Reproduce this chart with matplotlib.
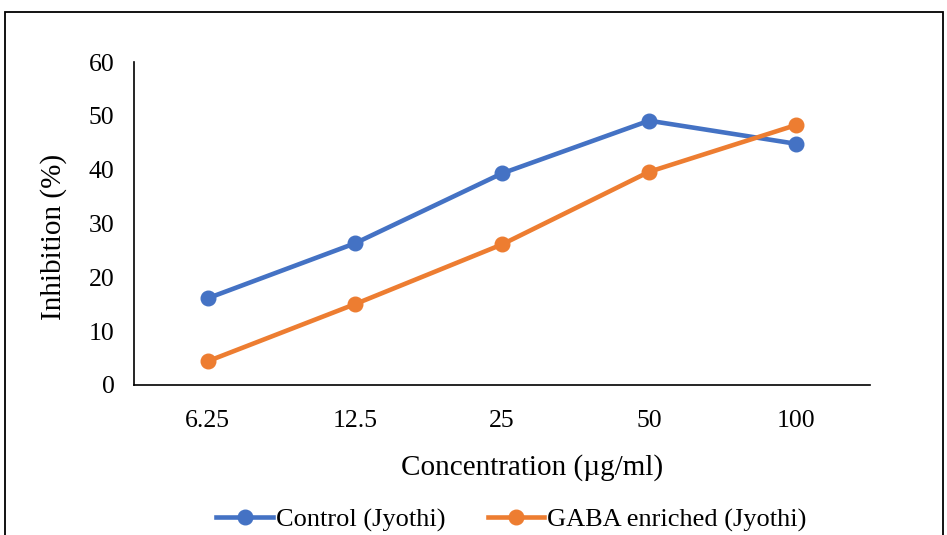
import matplotlib
matplotlib.use("Agg")
import matplotlib.pyplot as plt
from matplotlib.patches import Rectangle

concentrations = ["6.25", "12.5", "25", "50", "100"]
control = [16.1, 26.3, 39.3, 49.1, 44.8]
gaba = [4.4, 15.0, 26.1, 39.6, 48.3]

plt.rcParams["font.family"] = ["Liberation Serif", "DejaVu Serif"]

fig = plt.figure(figsize=(9.47, 5.35), dpi=100)
ax = fig.add_axes([0.1415, 0.2804, 0.777, 0.6037])

x = range(len(concentrations))
ax.plot(x, control, color="#4472C4", lw=3.3, marker="o", ms=10.5, label="Control (Jyothi)")
ax.plot(x, gaba, color="#ED7D31", lw=3.3, marker="o", ms=10.5, label="GABA enriched (Jyothi)")

ax.set_xlim(-0.5, len(concentrations) - 0.5)
ax.set_ylim(0, 60)
ax.set_yticks(range(0, 61, 10))
ax.set_xticks(list(x))
ax.set_xticklabels(concentrations)
ax.tick_params(length=0, labelsize=18.5)
ax.tick_params(axis="x", pad=18)
ax.tick_params(axis="y", pad=14)
for s in ["top", "right"]:
    ax.spines[s].set_visible(False)
for s in ["left", "bottom"]:
    ax.spines[s].set_linewidth(1.2)

ax.set_xlabel("Concentration (µg/ml)", fontsize=21, labelpad=16)
ax.set_ylabel("Inhibition (%)", fontsize=21, labelpad=16)
ax.xaxis.label.set_x(0.541)
ax.yaxis.label.set_y(0.458)

fig.legend(loc="center", bbox_to_anchor=(0.54, 0.028), ncol=2, frameon=False,
           fontsize=19, handlelength=2.15, handletextpad=0.1, columnspacing=1.6)

# chart area border
fig.patches.append(Rectangle((5 / 947, -0.05), 938 / 947, 1.05 - 12 / 535,
                             transform=fig.transFigure, fill=False,
                             edgecolor="black", lw=1.3, clip_on=False))

fig.savefig("out.png", dpi=100)
